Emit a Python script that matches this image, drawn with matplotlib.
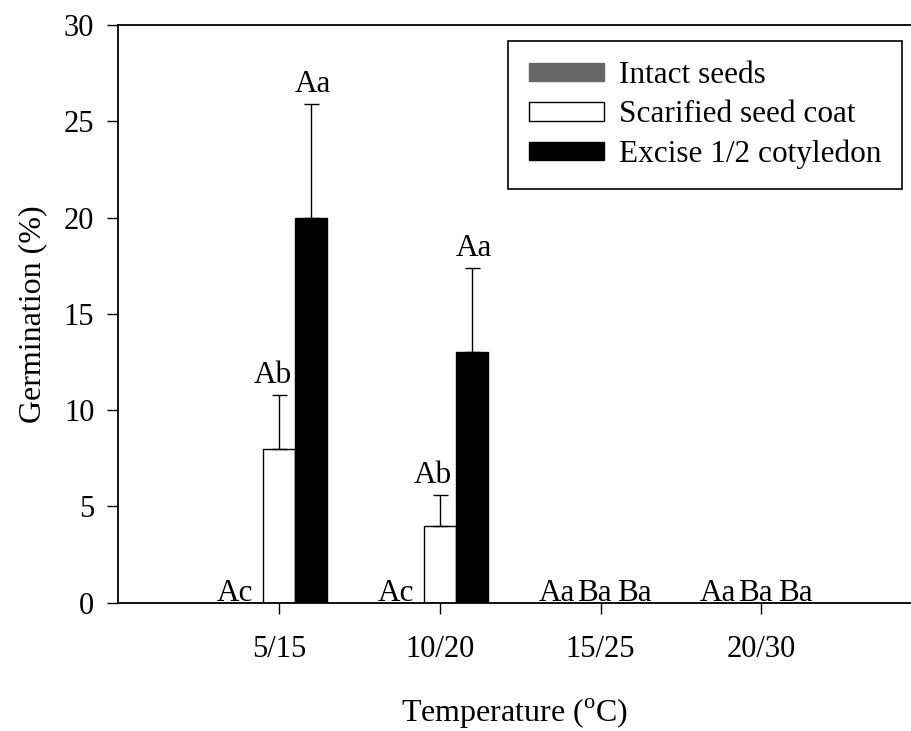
import numpy as np
from matplotlib import pyplot as plt
from matplotlib.patches import Patch

temps = ["5/15", "10/20", "15/25", "20/30"]
series_names = ["Intact seeds", "Scarified seed coat", "Excise 1/2 cotyledon"]

intact = [0, 0, 0, 0]
intact_err = [0, 0, 0, 0]
scarified = [8, 4, 0, 0]
scarified_err = [2.8, 1.6, 0, 0]
excised = [20, 13, 0, 0]
excised_err = [5.9, 4.4, 0, 0]

intact_letters = ["Ac", "Ac", "Aa", "Aa"]
scarified_letters = ["Ab", "Ab", "Ba", "Ba"]
excised_letters = ["Aa", "Aa", "Ba", "Ba"]

plt.rcParams["font.family"] = ["Liberation Serif", "DejaVu Serif"]
plt.rcParams["mathtext.fontset"] = "custom"
plt.rcParams["mathtext.rm"] = "Liberation Serif"
plt.rcParams["font.size"] = 22


def main():
    fig = plt.figure(figsize=(9.11, 7.31), dpi=100)
    ax = fig.add_axes([0.1295, 0.1755, 0.8705, 0.7903])

    x = np.arange(1, len(temps) + 1)
    width = 0.2
    groups = [
        (intact, intact_err, intact_letters, -width, "#666666", "#666666", -0.07),
        (scarified, scarified_err, scarified_letters, 0.0, "white", "black", -0.04),
        (excised, excised_err, excised_letters, width, "black", "black", 0.01),
    ]

    for vals, errs, letters, off, fc, ec, dx in groups:
        pos = x + off
        ax.bar(pos, vals, width=width, facecolor=fc, edgecolor=ec, linewidth=1.0, zorder=2)
        for p, v, e, lab in zip(pos, vals, errs, letters):
            if e > 0:
                ax.errorbar(p, v, yerr=[[0], [e]], fmt="none", ecolor="black",
                            elinewidth=1.0, capsize=5.4, capthick=1.0, zorder=3)
                ax.text(p + dx, v + e + 0.6, lab, ha="center", va="baseline", fontsize=22.5)
            else:
                ax.text(p + dx, 0.08, lab, ha="center", va="baseline", fontsize=22.5)

    ax.set_xlim(0, 4.93)
    ax.set_ylim(0, 30)
    ax.set_xticks(x)
    ax.set_xticklabels(temps)
    ax.set_yticks(range(0, 31, 5))
    ax.tick_params(axis="x", direction="out", length=8, width=1.0, pad=15, labelsize=22)
    ax.tick_params(axis="y", direction="out", length=8, width=1.0, pad=9, labelsize=22)
    ax.spines["right"].set_visible(False)
    for s in ["left", "bottom", "top"]:
        ax.spines[s].set_linewidth(1.3)

    ax.set_xlabel("Temperature ($^{\\rm o}$C)", fontsize=23, labelpad=24)
    ax.set_ylabel("Germination (%)", fontsize=23, labelpad=12)

    handles = [
        Patch(facecolor="#666666", edgecolor="#666666"),
        Patch(facecolor="white", edgecolor="black"),
        Patch(facecolor="black", edgecolor="black"),
    ]
    leg = ax.legend(handles, series_names, loc="upper right",
                    bbox_to_anchor=(902 / 911, 1 - 40.7 / 731),
                    bbox_transform=fig.transFigure, borderaxespad=0,
                    fancybox=False, edgecolor="black", framealpha=1,
                    fontsize=22.5, handlelength=2.4, handleheight=0.55,
                    handletextpad=0.5, labelspacing=0.33, borderpad=0.65)
    leg.get_frame().set_linewidth(1.2)

    fig.savefig("out.png", dpi=100)


if __name__ == "__main__":
    main()
